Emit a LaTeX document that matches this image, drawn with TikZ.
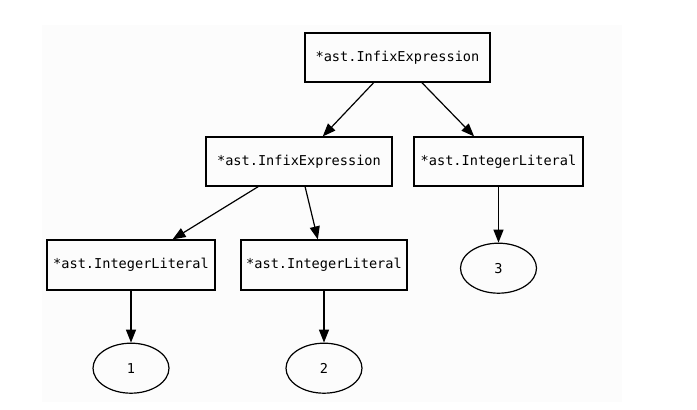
\documentclass[tikz,border=0pt]{standalone}
\usepackage{fontspec}
\setmonofont{DejaVu Sans Mono}
\usetikzlibrary{positioning,arrows.meta,shapes.geometric,backgrounds}

\begin{document}
\begin{tikzpicture}[
  x=1pt,y=-1pt,
  font=\ttfamily\fontsize{13.6}{16}\selectfont,
  node distance=52pt,
  astnode/.style={rectangle,draw=black,line width=1.2pt,minimum height=49pt,inner sep=3pt},
  lit/.style={ellipse,draw=black,line width=1.2pt,minimum width=76pt,minimum height=50pt,inner sep=0pt},
  arr/.style={-{Triangle[length=13pt,width=10pt]},line width=1.2pt,black},
]
\useasboundingbox (0,0) rectangle (697,410);

% ---------- AST nodes ----------
\node[astnode,minimum width=185pt] (root) at (397.5,57.5) {*ast.InfixExpression};
\node[astnode,minimum width=186pt] (infix) at (299,161.5) {*ast.InfixExpression};
\node[astnode,minimum width=169pt] (lit3) at (498.5,161.5) {*ast.IntegerLiteral};
\node[astnode,minimum width=168pt,minimum height=50pt] (lit1) at (131,265) {*ast.IntegerLiteral};
\node[astnode,minimum width=166pt,minimum height=50pt] (lit2) at (324,265) {*ast.IntegerLiteral};

% ---------- values ----------
\node[lit,below=56pt of lit3] (val3) {3};
\node[lit,below=of lit1] (val1) {1};
\node[lit,below=of lit2] (val2) {2};

\draw[arr] (root)--(infix);
\draw[arr] (root)--(lit3);
\draw[arr] (infix)--(lit1);
\draw[arr] (infix)--(lit2);
\draw[arr] (lit1)--(val1);
\draw[arr] (lit2)--(val2);
\draw[arr] (lit3)--(val3);

% faint canvas behind the graph
\begin{scope}[on background layer]
\fill[black!1.2] (42,25) rectangle (622,402);
\end{scope}
\end{tikzpicture}
\end{document}
